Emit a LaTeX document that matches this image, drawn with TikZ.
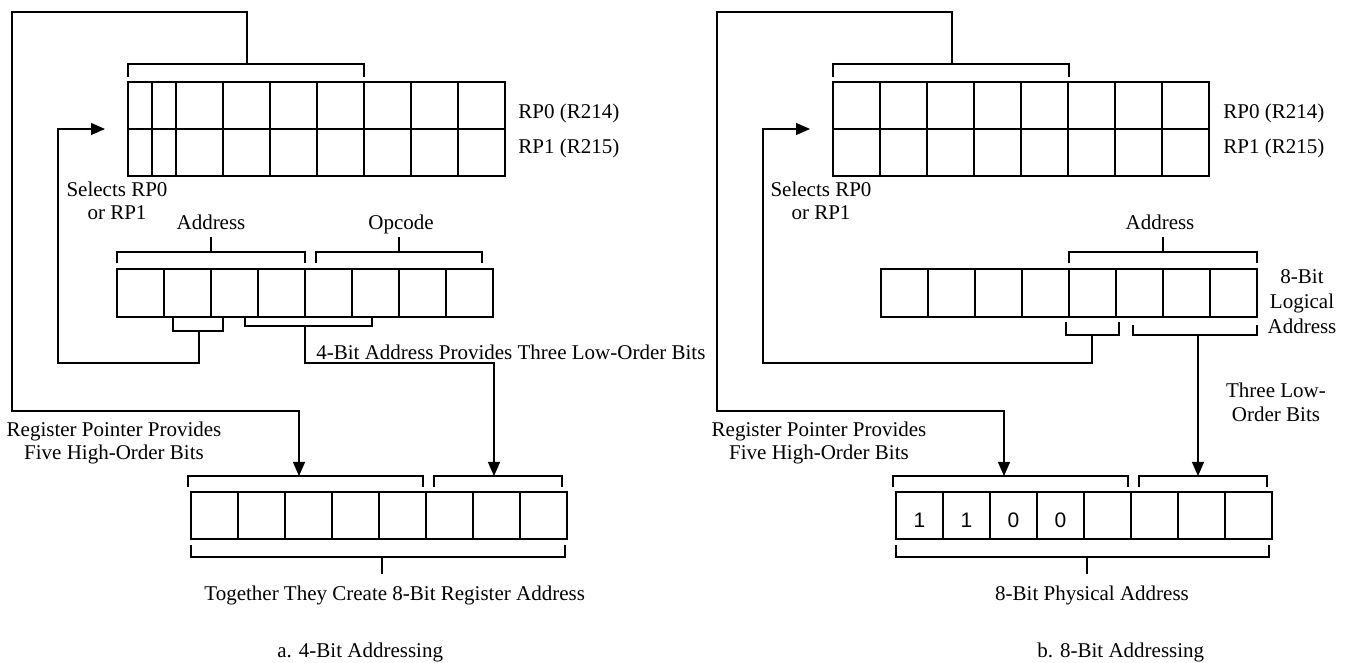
\documentclass[tikz,border=0pt]{standalone}
\usepackage{fontspec}
\setmainfont{Liberation Serif}
\newfontfamily\digitfont{Liberation Sans}
\usetikzlibrary{arrows.meta}
\tikzset{
  ln/.style={line width=0.6pt},
  arr/.style={ln, -{Triangle[length=7pt,width=6pt]}},
  regcell/.style={draw, line width=0.6pt, anchor=north west, inner sep=0pt, outer sep=0pt, minimum height=23.5pt},
  txt/.style={inner sep=0pt, font=\fontsize{10.5}{11.5}\selectfont},
  txtb/.style={inner sep=0pt, font=\fontsize{10.5}{12.5}\selectfont},
  txtc/.style={inner sep=0pt, font=\fontsize{10.5}{12}\selectfont},
  digit/.style={inner sep=0pt, anchor=base, font=\digitfont\fontsize{10.5}{12}\selectfont}
}
\begin{document}
\begin{tikzpicture}[x=0.5pt, y=-0.5pt]
\useasboundingbox (0,0) rectangle (1351,663);

% ================= a. 4-Bit Addressing =================
% register pointer table (first cell split)
\foreach \r/\yy in {0/82,1/129}{
  \foreach \xx/\ww [count=\c] in {128/24,152/24,176/47,223/47,270/47,317/47,364/47,411/47,458/47}
    \node[regcell, minimum width=\ww*0.5pt] (LT\r-\c) at (\xx,\yy) {};
}
\node[txt, anchor=base west] (LRP0) at (518,119) {RP0 (R214)};
\node[txt, anchor=base west] (LRP1) at (518,154) {RP1 (R215)};

% instruction register
\foreach \c in {0,...,7}
  \node[regcell, minimum width=23.5pt, minimum height=24pt] (LM\c) at ({117+47*\c},269) {};

% result register
\foreach \c in {0,...,7}
  \node[regcell, minimum width=23.5pt] (LB\c) at ({191+47*\c},492) {};

% brackets
\draw[ln] (128,77) -- (128,64) -- (364,64) -- (364,77);
\draw[ln] (117,263) -- (117,252) -- (305,252) -- (305,263);
\draw[ln] (316,263) -- (316,252) -- (482,252) -- (482,263);
\draw[ln] (173,317) -- (173,331) -- (223,331) -- (223,317);
\draw[ln] (245,316) -- (245,326) -- (372,326) -- (372,316);
\draw[ln] (188,487) -- (188,476) -- (423,476) -- (423,487);
\draw[ln] (434,487) -- (434,476) -- (562,476) -- (562,487);
\draw[ln] (191,545) -- (191,557) -- (565,557) -- (565,545);

% labels
\node[txt, anchor=base] (LAddr) at (211,230) {Address};
\node[txt, anchor=base] (LOpc) at (401,230) {Opcode};
\node[txt, align=center] (LSel) at (117,201) {Selects RP0\\or RP1};
\node[txt, anchor=base west] (L4bit) at (316,360) {4-Bit Address Provides Three Low-Order Bits};
\node[txt, align=center] (LRegP) at (114,443) {Register Pointer Provides\\Five High-Order Bits};
\node[txt, anchor=base west] (LTog) at (204,600) {Together They Create 8-Bit Register Address};
\node[txt, anchor=base west] (LCap) at (277,657) {a. 4-Bit Addressing};

% connector end points
\coordinate (LtopStem) at (247,64);
\coordinate (LaddrStem) at (211,252);
\coordinate (LaddrTop) at (211,237);
\coordinate (LopcStem) at (399,252);
\coordinate (LopcTop) at (399,237);
\coordinate (LselStem) at (199,331);
\coordinate (LselTip) at (105,129);
\coordinate (L4Stem) at (305,326);
\coordinate (LhiTip) at (299,476);
\coordinate (LloTip) at (494,476);
\coordinate (LresStem) at (382,557);
\coordinate (LresEnd) at (382,574);

\draw[ln] (LaddrStem) -- (LaddrTop);
\draw[ln] (LopcStem) -- (LopcTop);
\draw[ln] (LresStem) -- (LresEnd);
\draw[arr] (LtopStem) -- (247,12) -- (12,12) -- (12,411) -| (LhiTip);
\draw[arr] (LselStem) -- (199,363) -| (58,129) -- (LselTip);
\draw[arr] (L4Stem) -- (305,363) -| (LloTip);

% ================= b. 8-Bit Addressing =================
\foreach \r/\yy in {0/82,1/129}{
  \foreach \c in {0,...,7}
    \node[regcell, minimum width=23.5pt] (RT\r-\c) at ({833+47*\c},\yy) {};
}
\node[txt, anchor=base west] (RRP0) at (1223,119) {RP0 (R214)};
\node[txt, anchor=base west] (RRP1) at (1223,154) {RP1 (R215)};

\foreach \c in {0,...,7}
  \node[regcell, minimum width=23.5pt, minimum height=24pt] (RM\c) at ({881+47*\c},269) {};

\foreach \c in {0,...,7}
  \node[regcell, minimum width=23.5pt] (RB\c) at ({896+47*\c},492) {};

\node[digit] (D0) at (919.5,528) {1};
\node[digit] (D1) at (966.5,528) {1};
\node[digit] (D2) at (1013.5,528) {0};
\node[digit] (D3) at (1060.5,528) {0};

% brackets
\draw[ln] (833,77) -- (833,64) -- (1069,64) -- (1069,77);
\draw[ln] (1069,263) -- (1069,252) -- (1257,252) -- (1257,263);
\draw[ln] (1066,322) -- (1066,335) -- (1119,335) -- (1119,322);
\draw[ln] (1133,325) -- (1133,335) -- (1257,335) -- (1257,325);
\draw[ln] (893,487) -- (893,476) -- (1128,476) -- (1128,487);
\draw[ln] (1139,487) -- (1139,476) -- (1267,476) -- (1267,487);
\draw[ln] (896,545) -- (896,557) -- (1269,557) -- (1269,545);

% labels
\node[txt, anchor=base] (RAddr) at (1160,230) {Address};
\node[txtb, align=center] (RLog) at (1302,302) {8-Bit\\Logical\\Address};
\node[txt, align=center] (RSel) at (821,201) {Selects RP0\\or RP1};
\node[txtc, align=center] (RLow) at (1276,402) {Three Low-\\Order Bits};
\node[txt, align=center] (RRegP) at (819,443) {Register Pointer Provides\\Five High-Order Bits};
\node[txt, anchor=base] (RPhys) at (1092,600) {8-Bit Physical Address};
\node[txt, anchor=base west] (RCap) at (1037,657) {b. 8-Bit Addressing};

% connector end points
\coordinate (RtopStem) at (952,64);
\coordinate (RaddrStem) at (1163,252);
\coordinate (RaddrTop) at (1163,237);
\coordinate (RselStem) at (1092,335);
\coordinate (RselTip) at (810,129);
\coordinate (RloStem) at (1198,335);
\coordinate (RhiTip) at (1004,476);
\coordinate (RloTip) at (1198,476);
\coordinate (RresStem) at (1087,557);
\coordinate (RresEnd) at (1087,574);

\draw[ln] (RaddrStem) -- (RaddrTop);
\draw[ln] (RresStem) -- (RresEnd);
\draw[arr] (RtopStem) -- (952,12) -- (717,12) -- (717,411) -| (RhiTip);
\draw[arr] (RselStem) -- (1092,363) -| (763,129) -- (RselTip);
\draw[arr] (RloStem) -- (RloTip);
\end{tikzpicture}
\end{document}
